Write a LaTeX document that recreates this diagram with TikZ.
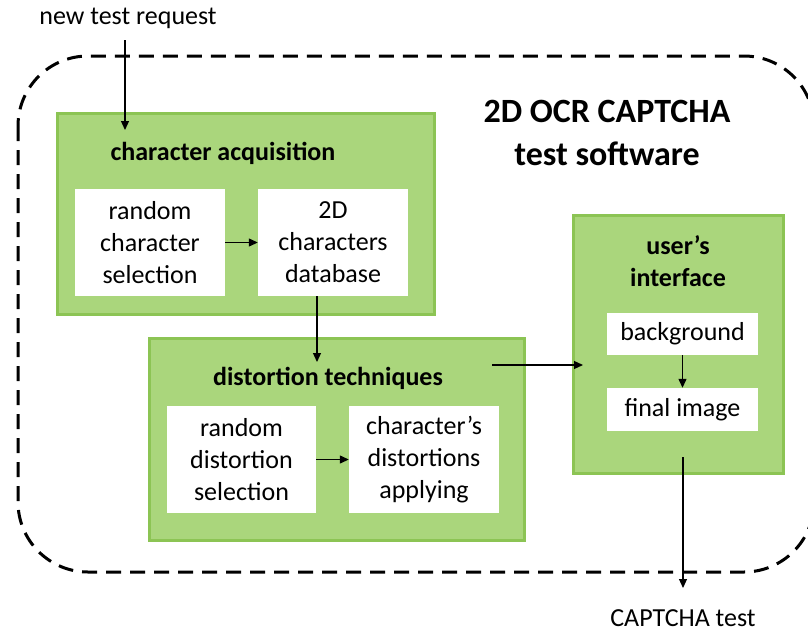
\documentclass[tikz,border=0pt]{standalone}
\usepackage{fontspec}
\setmainfont{Carlito}
\usetikzlibrary{arrows.meta}

\definecolor{boxfill}{RGB}{170,214,124}
\definecolor{boxline}{RGB}{140,196,84}

\tikzset{
  group/.style={draw=boxline, line width=3pt, fill=boxfill, inner sep=0pt},
  item/.style={fill=white, inner sep=0pt, align=center, font=\fontsize{26}{32}\selectfont},
  title/.style={font=\bfseries\fontsize{26}{32}\selectfont, align=center},
  plain/.style={font=\fontsize{26}{32}\selectfont},
  link/.style={-{Triangle[length=9pt,width=8pt]}, line width=1.2pt}
}

\begin{document}
\begin{tikzpicture}[x=1pt, y=-1pt]
\clip (0,0) rectangle (808,632);

% software frame
\draw[line width=3pt, dash pattern=on 15pt off 9pt, rounded corners=70pt] (18,56) rectangle (814,572);
\node[font=\bfseries\fontsize{34}{43}\selectfont, align=center] (soft) at (607,133) {2D OCR CAPTCHA\\test software};

% outside texts
\node[plain] (req) at (128,18) {new test request};
\node[plain] (test) at (683,618) {CAPTCHA test};

% character acquisition
\node[group, minimum width=377pt, minimum height=201pt] (acq) at (245.5,213.5) {};
\node[title] (acqtitle) at (223,153) {character acquisition};
\node[item, minimum width=150pt, minimum height=107pt] (rcs) at (150,242.5) {random\\character\\selection};
\node[item, minimum width=150pt, minimum height=107pt] (db) at (333,242.5) {2D\\characters\\database};

% distortion techniques
\node[group, minimum width=375pt, minimum height=202pt] (dist) at (336.5,439) {};
\node[title] (disttitle) at (328,378) {distortion techniques};
\node[item, minimum width=149pt, minimum height=107pt] (rds) at (241.5,459.5) {random\\distortion\\selection};
\node[item, minimum width=150pt, minimum height=107pt] (cda) at (424,459.5) {character’s\\distortions\\applying};

% user's interface
\node[group, minimum width=210pt, minimum height=258pt] (ui) at (678,344) {};
\node[title] (uititle) at (678,261) {user’s\\interface};
\node[item, minimum width=151pt, minimum height=42pt] (bg) at (682.5,334) {background};
\node[item, minimum width=151pt, minimum height=43pt] (fi) at (682.5,409.5) {final image};

% connectors
\coordinate (reqend) at (125,130);
\coordinate (distin) at (317,362);
\coordinate (distout) at (492,365);
\coordinate (uiin) at (583,365);
\coordinate (uiout) at (683,457);
\coordinate (testin) at (683,588);

\draw[link] (reqend |- 0,40) -- (reqend);
\draw[link] (rcs) -- (db);
\draw[link] (distin |- db.south) -- (distin);
\draw[link] (rds) -- (cda);
\draw[link] (distout) -- (uiin);
\draw[link] (bg) -- (fi);
\draw[link] (uiout) -- (testin);
\end{tikzpicture}
\end{document}
